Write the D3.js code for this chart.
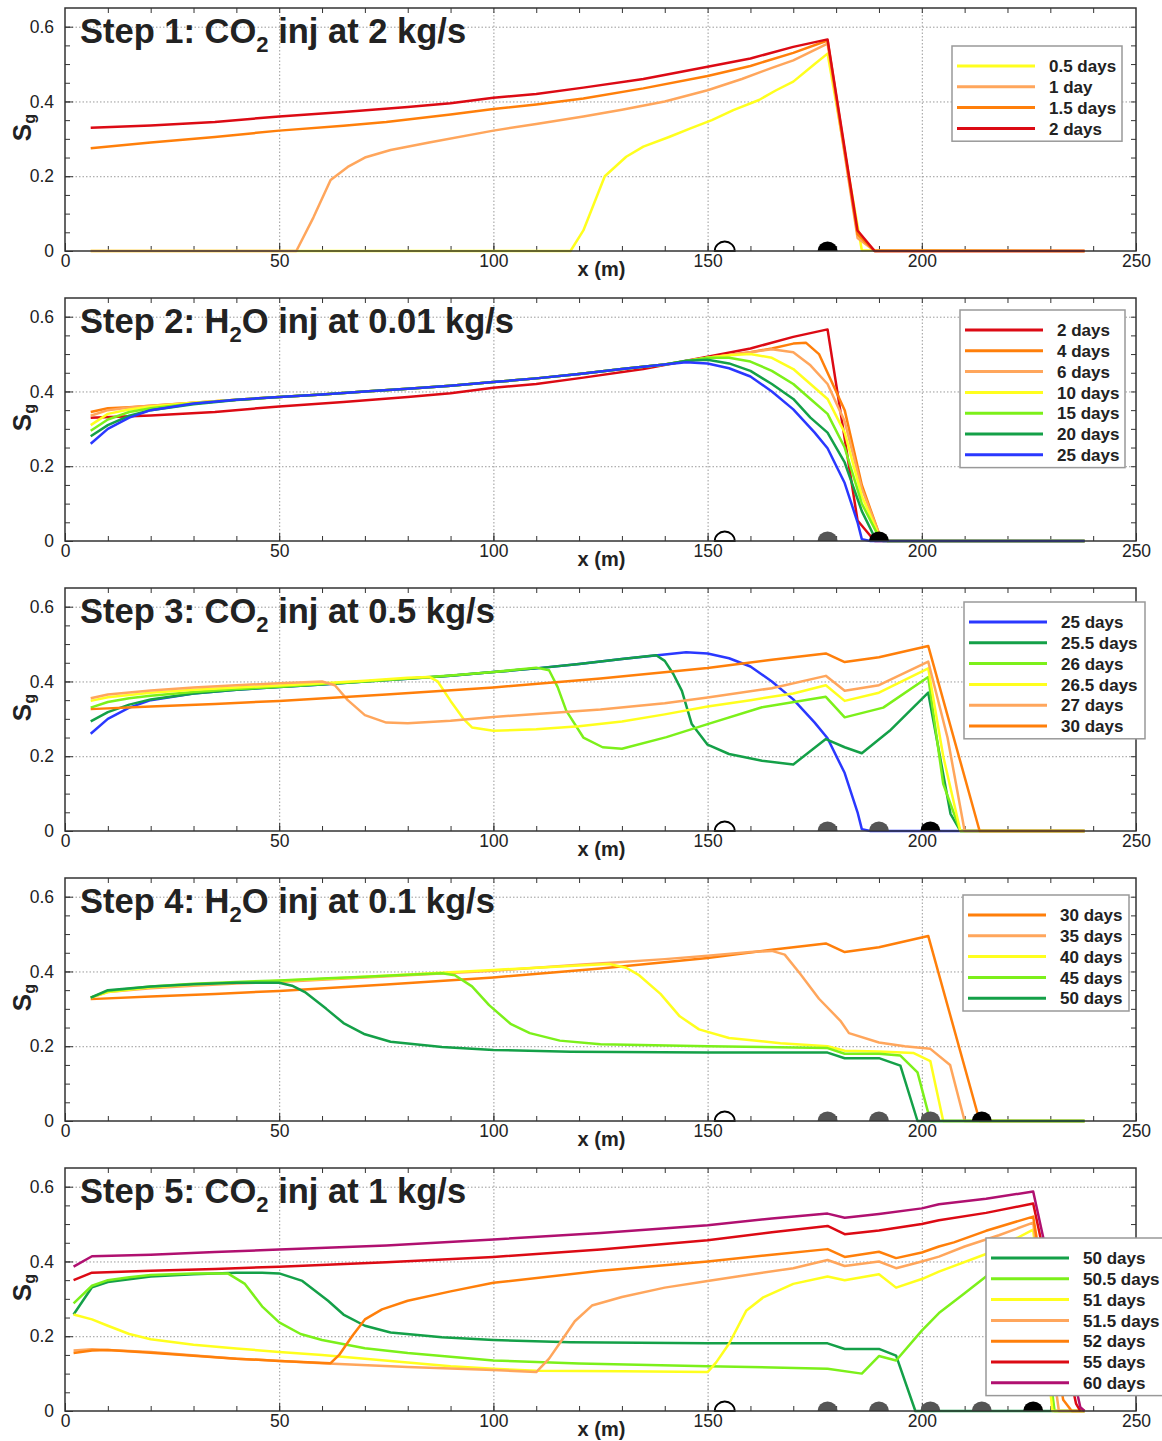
<!DOCTYPE html>
<html>
<head>
<meta charset="utf-8">
<script src="https://cdn.jsdelivr.net/npm/d3@7"></script>
<style>
  body { margin: 0; background: #fff; }
  text { font-family: "Liberation Sans", Arial, sans-serif; fill: #222; }
  .grid line { stroke: #9a9a9a; stroke-dasharray: 1.5,2; }
  .ticks line { stroke: #333; }
  .ticks text { font-size: 17.5px; fill: #222; }
</style>
</head>
<body>
<div class="chart"></div>
<script>
// ---------------- data ----------------
var xTicks = [0, 50, 100, 150, 200, 250];
var yTicks = [0, 0.2, 0.4, 0.6];
var wellX = [154, 178, 190, 202, 214, 226];

// Step 1: CO2 injection at 2 kg/s
var step1Labels = ["0.5 days", "1 day", "1.5 days", "2 days"];
var s1_05d = [[6,0],[118,0],[121,0.055],[126,0.2],[131,0.252],[135,0.279],[141,0.305],[146,0.328],[151,0.35],[156,0.377],[162,0.404],[166,0.43],[170,0.453],[175,0.5],[178,0.528],[186,0.002],[238,0]];
var s1_1d = [[6,0],[54,0],[58,0.09],[62,0.19],[66,0.225],[70,0.25],[76,0.27],[85,0.29],[100,0.322],[110,0.34],[121,0.36],[130,0.378],[140,0.4],[150,0.43],[158,0.46],[165,0.49],[170,0.51],[178,0.555],[185,0.035],[189,0],[238,0]];
var s1_15d = [[6,0.275],[20,0.29],[35,0.305],[50,0.322],[65,0.335],[75,0.345],[90,0.365],[100,0.38],[110,0.392],[121,0.408],[135,0.435],[150,0.468],[160,0.495],[170,0.53],[178,0.563],[185,0.045],[189,0],[238,0]];
var s1_2d = [[6,0.33],[20,0.336],[35,0.345],[50,0.36],[65,0.372],[80,0.385],[90,0.395],[100,0.41],[110,0.42],[121,0.437],[135,0.46],[150,0.493],[160,0.515],[170,0.546],[178,0.566],[185,0.055],[189,0],[238,0]];

// Step 2: H2O injection at 0.01 kg/s
var step2Labels = ["2 days", "4 days", "6 days", "10 days", "15 days", "20 days", "25 days"];
var s2_4d = [[6,0.345],[10,0.355],[15,0.358],[20,0.362],[30,0.37],[40,0.378],[50,0.385],[60,0.392],[70,0.4],[80,0.407],[90,0.415],[100,0.425],[110,0.435],[120,0.447],[130,0.46],[140,0.472],[150,0.49],[160,0.505],[165,0.515],[170,0.528],[173,0.53],[176,0.5],[178,0.45],[182,0.35],[186,0.15],[190,0.02],[192,0],[238,0]];
var s2_6d = [[6,0.335],[10,0.35],[15,0.357],[20,0.362],[30,0.37],[40,0.378],[50,0.385],[60,0.392],[70,0.4],[80,0.407],[90,0.415],[100,0.425],[110,0.435],[120,0.447],[130,0.46],[140,0.472],[150,0.49],[160,0.505],[165,0.513],[170,0.505],[174,0.47],[178,0.42],[182,0.32],[186,0.14],[190,0.02],[192,0],[238,0]];
var s2_10d = [[6,0.31],[10,0.34],[15,0.352],[20,0.36],[30,0.37],[40,0.378],[50,0.385],[60,0.392],[70,0.4],[80,0.407],[90,0.415],[100,0.425],[110,0.435],[120,0.447],[130,0.46],[140,0.472],[150,0.49],[155,0.497],[160,0.5],[165,0.49],[170,0.46],[174,0.42],[178,0.38],[182,0.29],[186,0.12],[190,0.015],[192,0],[238,0]];
var s2_15d = [[6,0.295],[10,0.325],[15,0.345],[20,0.355],[30,0.368],[40,0.378],[50,0.385],[60,0.392],[70,0.4],[80,0.407],[90,0.415],[100,0.425],[110,0.435],[120,0.447],[130,0.46],[140,0.472],[150,0.49],[155,0.49],[160,0.48],[165,0.455],[170,0.42],[174,0.38],[178,0.34],[182,0.25],[186,0.1],[190,0.01],[192,0],[238,0]];
var s2_20d = [[6,0.28],[10,0.31],[15,0.335],[20,0.35],[30,0.366],[40,0.377],[50,0.385],[60,0.392],[70,0.4],[80,0.407],[90,0.415],[100,0.425],[110,0.435],[120,0.447],[130,0.46],[140,0.472],[145,0.482],[150,0.485],[155,0.475],[160,0.455],[165,0.42],[170,0.38],[174,0.33],[178,0.29],[182,0.21],[186,0.08],[189,0.01],[191,0],[238,0]];
var s2_25d = [[6,0.26],[10,0.3],[15,0.33],[20,0.35],[30,0.368],[40,0.378],[50,0.385],[60,0.392],[70,0.4],[80,0.407],[90,0.415],[100,0.425],[110,0.435],[120,0.447],[130,0.46],[140,0.472],[145,0.478],[150,0.475],[155,0.462],[160,0.44],[165,0.4],[170,0.352],[175,0.29],[178,0.248],[182,0.155],[185,0.05],[186,0.005],[188,0],[238,0]];

// Step 3: CO2 injection at 0.5 kg/s
var step3Labels = ["25 days", "25.5 days", "26 days", "26.5 days", "27 days", "30 days"];
var s3_255d = [[6,0.293],[10,0.318],[15,0.338],[20,0.352],[30,0.368],[40,0.378],[50,0.385],[60,0.392],[70,0.4],[80,0.407],[90,0.415],[100,0.425],[110,0.435],[120,0.447],[130,0.46],[138,0.47],[140,0.455],[142,0.42],[144,0.375],[146.3,0.286],[150,0.231],[155,0.206],[162.7,0.188],[170,0.178],[177.6,0.246],[182,0.224],[186,0.208],[192.5,0.268],[201.5,0.37],[206.7,0.046],[209,0],[238,0]];
var s3_26d = [[6,0.33],[10,0.345],[15,0.355],[20,0.362],[30,0.372],[40,0.38],[50,0.386],[60,0.393],[70,0.4],[80,0.408],[90,0.416],[100,0.425],[110,0.437],[113,0.43],[115,0.385],[117,0.322],[118,0.304],[121,0.25],[125.5,0.224],[130,0.22],[140.4,0.251],[150,0.286],[162.7,0.331],[177.6,0.359],[182,0.304],[191,0.33],[201.5,0.412],[205,0.126],[209,0],[238,0]];
var s3_265d = [[6,0.348],[10,0.358],[20,0.37],[30,0.378],[40,0.384],[50,0.389],[60,0.395],[70,0.402],[80,0.41],[85,0.412],[87,0.4],[90,0.348],[93,0.3],[95,0.277],[100,0.268],[110,0.272],[120,0.28],[130,0.293],[140,0.312],[150,0.333],[160,0.35],[170,0.368],[177.6,0.39],[182,0.348],[190,0.37],[201.5,0.435],[205,0.2],[209,0],[238,0]];
var s3_27d = [[6,0.355],[10,0.365],[20,0.376],[30,0.384],[40,0.39],[50,0.395],[60,0.4],[63,0.39],[66,0.35],[70,0.31],[75,0.29],[80,0.288],[90,0.295],[100,0.305],[110,0.313],[125,0.325],[140,0.342],[150,0.357],[165,0.382],[177.6,0.415],[182,0.375],[190,0.39],[201.5,0.453],[206,0.25],[210,0],[238,0]];
var s3_30d = [[6,0.326],[20,0.333],[35,0.34],[50,0.348],[75,0.365],[100,0.384],[125,0.408],[150,0.436],[165,0.458],[177.6,0.475],[182,0.452],[190,0.465],[201.5,0.495],[213.5,0],[238,0]];

// Step 4: H2O injection at 0.1 kg/s
var step4Labels = ["30 days", "35 days", "40 days", "45 days", "50 days"];
var s4_35d = [[6,0.33],[10,0.345],[20,0.355],[30,0.362],[40,0.368],[50,0.372],[60,0.378],[70,0.384],[80,0.39],[90,0.396],[100,0.402],[110,0.41],[120,0.418],[130,0.425],[140,0.433],[150,0.442],[160,0.452],[165,0.455],[168,0.445],[171.6,0.394],[176,0.327],[181,0.268],[183,0.235],[190,0.21],[196,0.2],[202,0.193],[206.6,0.15],[210,0],[238,0]];
var s4_40d = [[6,0.33],[10,0.345],[20,0.358],[30,0.365],[40,0.37],[50,0.375],[60,0.38],[70,0.386],[80,0.392],[90,0.398],[100,0.404],[110,0.41],[120,0.416],[127,0.42],[131,0.41],[134,0.39],[139,0.34],[143.5,0.28],[148,0.245],[155,0.222],[167,0.208],[178,0.2],[182,0.188],[190,0.186],[198,0.182],[202,0.16],[205,0],[238,0]];
var s4_45d = [[6,0.33],[10,0.348],[20,0.36],[30,0.367],[40,0.372],[50,0.376],[60,0.381],[70,0.386],[80,0.391],[88,0.395],[91,0.39],[95,0.36],[99,0.31],[104,0.26],[108.5,0.235],[115.5,0.215],[125,0.205],[150,0.2],[178,0.195],[182,0.18],[190,0.18],[195,0.175],[199,0.13],[202,0],[238,0]];
var s4_50d = [[6,0.33],[10,0.35],[20,0.36],[30,0.366],[40,0.37],[50,0.37],[53,0.362],[56,0.345],[61,0.3],[65,0.262],[70,0.232],[76,0.212],[88,0.198],[100,0.19],[118,0.185],[150,0.183],[178,0.183],[182,0.168],[190,0.168],[195,0.148],[199,0],[238,0]];

// Step 5: CO2 injection at 1 kg/s
var step5Labels = ["50 days", "50.5 days", "51 days", "51.5 days", "52 days", "55 days", "60 days"];
var s5_50d = [[2,0.258],[6.3,0.331],[10,0.345],[20,0.36],[30,0.366],[40,0.37],[46,0.37],[50,0.368],[55.4,0.348],[61.4,0.295],[65,0.258],[70,0.228],[76,0.21],[88,0.197],[100,0.19],[118,0.184],[150,0.181],[178,0.181],[182,0.166],[190,0.166],[194,0.148],[198.5,0],[238,0]];
var s5_505d = [[2,0.288],[6.3,0.335],[10,0.35],[15,0.358],[20,0.364],[30,0.368],[38,0.368],[42,0.34],[46,0.28],[50,0.237],[55,0.206],[60,0.19],[70,0.168],[80,0.155],[90,0.145],[100,0.135],[120,0.127],[150,0.12],[178,0.113],[186,0.1],[190,0.147],[194,0.135],[200,0.215],[204,0.262],[210,0.315],[215,0.36],[220,0.4],[226,0.44],[231,0],[238,0]];
var s5_51d = [[2,0.258],[6.3,0.245],[10,0.228],[15,0.206],[20,0.192],[30,0.177],[40,0.167],[50,0.158],[60,0.15],[70,0.14],[80,0.13],[90,0.12],[100,0.113],[110,0.108],[130,0.106],[150,0.104],[152,0.13],[155,0.18],[159,0.268],[163,0.304],[170,0.34],[178,0.36],[182,0.35],[190,0.366],[194,0.33],[200,0.353],[204,0.373],[215,0.42],[226,0.485],[230.5,0],[238,0]];
var s5_515d = [[2,0.162],[6.3,0.165],[20,0.158],[40,0.14],[60,0.128],[80,0.118],[100,0.11],[110,0.104],[113,0.14],[116,0.19],[119,0.24],[123,0.282],[130,0.305],[140,0.33],[150,0.348],[160,0.365],[170,0.382],[178,0.404],[182,0.388],[190,0.4],[194,0.382],[200,0.4],[204,0.413],[210,0.44],[218,0.47],[226,0.504],[232,0],[238,0]];
var s5_52d = [[2,0.155],[6.3,0.162],[10,0.163],[20,0.156],[30,0.148],[40,0.14],[50,0.134],[62,0.128],[64,0.15],[67,0.2],[70,0.245],[74,0.272],[80,0.295],[90,0.32],[100,0.343],[125,0.375],[150,0.4],[165,0.418],[178,0.433],[182,0.412],[190,0.426],[194,0.409],[200,0.424],[204,0.44],[207.5,0.451],[215,0.482],[226,0.52],[233,0.03],[235,0],[238,0]];
var s5_55d = [[2,0.35],[6.3,0.37],[20,0.375],[35,0.38],[50,0.386],[75,0.398],[100,0.412],[125,0.432],[150,0.457],[165,0.478],[178,0.495],[182,0.473],[190,0.483],[200,0.5],[204,0.51],[215,0.53],[226,0.555],[236,0.02],[237,0]];
var s5_60d = [[2,0.386],[6.3,0.414],[20,0.418],[35,0.425],[50,0.432],[75,0.443],[100,0.459],[125,0.476],[150,0.497],[165,0.515],[178,0.528],[182,0.517],[190,0.527],[200,0.542],[204,0.553],[215,0.568],[226,0.587],[237,0.01],[238,0]];

// ---------------- styles ----------------
var C = {
  yellow: "#ffff1e", ltorange: "#ffa65c", orange: "#ff7f0a", red: "#dc0a14",
  lime: "#7cf01a", green: "#14a048", blue: "#2a38ff", purple: "#b01070"
};

var panels = [
  { title: ["Step 1: CO", "2", " inj at 2 kg/s"], labels: step1Labels,
    series: [s1_05d, s1_1d, s1_15d, s1_2d],
    colors: [C.yellow, C.ltorange, C.orange, C.red],
    legend: { x: 952, y: 38, w: 170 } },
  { title: ["Step 2: H", "2", "O inj at 0.01 kg/s"], labels: step2Labels,
    series: [s1_2d, s2_4d, s2_6d, s2_10d, s2_15d, s2_20d, s2_25d],
    colors: [C.red, C.orange, C.ltorange, C.yellow, C.lime, C.green, C.blue],
    legend: { x: 960, y: 12, w: 165 } },
  { title: ["Step 3: CO", "2", " inj at 0.5 kg/s"], labels: step3Labels,
    series: [s2_25d, s3_255d, s3_26d, s3_265d, s3_27d, s3_30d],
    colors: [C.blue, C.green, C.lime, C.yellow, C.ltorange, C.orange],
    legend: { x: 964, y: 14, w: 181 } },
  { title: ["Step 4: H", "2", "O inj at 0.1 kg/s"], labels: step4Labels,
    series: [s3_30d, s4_35d, s4_40d, s4_45d, s4_50d],
    colors: [C.orange, C.ltorange, C.yellow, C.lime, C.green],
    legend: { x: 963, y: 17, w: 166 } },
  { title: ["Step 5: CO", "2", " inj at 1 kg/s"], labels: step5Labels,
    series: [s5_50d, s5_505d, s5_51d, s5_515d, s5_52d, s5_55d, s5_60d],
    colors: [C.green, C.lime, C.yellow, C.ltorange, C.orange, C.red, C.purple],
    legend: { x: 986, y: 70, w: 190 } }
];

// ---------------- layout ----------------
var svgWidth = 1162, svgHeight = 1441;
var plotLeft = 65, plotRight = 1136;
var firstTop = 8, panelStep = 290, panelH = 243;

var svg = d3.select(".chart").append("svg")
  .attr("width", svgWidth).attr("height", svgHeight);
svg.append("rect").attr("width", svgWidth).attr("height", svgHeight).attr("fill", "#fff");

var x = d3.scaleLinear().domain([0, 250]).range([plotLeft, plotRight]);

panels.forEach(function(p, i) {
  var top = firstTop + i * panelStep;
  var bottom = top + panelH;
  var y = d3.scaleLinear().domain([0, 0.65]).range([bottom, top]);
  var g = svg.append("g");

  // gridlines
  g.append("g").attr("class", "grid")
    .attr("transform", `translate(0, ${bottom})`)
    .call(d3.axisBottom(x).tickValues([50, 100, 150, 200]).tickSize(-panelH).tickFormat(""))
    .call(s => s.select(".domain").remove());
  g.append("g").attr("class", "grid")
    .attr("transform", `translate(${plotLeft}, 0)`)
    .call(d3.axisLeft(y).tickValues([0.2, 0.4, 0.6]).tickSize(-(plotRight - plotLeft)).tickFormat(""))
    .call(s => s.select(".domain").remove());

  // minor ticks
  var xMinor = d3.range(10, 250, 10);
  var yMinor = d3.range(0.05, 0.65, 0.05);
  g.append("g").attr("class", "ticks").attr("transform", `translate(0, ${bottom})`)
    .call(d3.axisBottom(x).tickValues(xMinor).tickSize(-5).tickFormat(""));
  g.append("g").attr("class", "ticks").attr("transform", `translate(0, ${top})`)
    .call(d3.axisTop(x).tickValues(xMinor).tickSize(-5).tickFormat(""));
  g.append("g").attr("class", "ticks").attr("transform", `translate(${plotLeft}, 0)`)
    .call(d3.axisLeft(y).tickValues(yMinor).tickSize(-5).tickFormat(""));
  g.append("g").attr("class", "ticks").attr("transform", `translate(${plotRight}, 0)`)
    .call(d3.axisRight(y).tickValues(yMinor).tickSize(-5).tickFormat(""));

  // labelled axes
  g.append("g").attr("class", "ticks").attr("transform", `translate(0, ${bottom})`)
    .call(d3.axisBottom(x).tickValues(xTicks).tickSize(-8).tickPadding(4).tickFormat(d3.format("d")));
  g.append("g").attr("class", "ticks").attr("transform", `translate(${plotLeft}, 0)`)
    .call(d3.axisLeft(y).tickValues(yTicks).tickSize(-8).tickPadding(11)
      .tickFormat(d => d === 0 ? "0" : d3.format(".1f")(d)));
  g.selectAll(".ticks .domain").remove();

  // curves
  var line = d3.line().x(d => x(d[0])).y(d => y(d[1]));
  g.selectAll("path.curve")
    .data(p.series)
    .enter()
    .append("path")
    .attr("class", "curve")
    .attr("d", line)
    .attr("fill", "none")
    .attr("stroke", (d, j) => p.colors[j])
    .attr("stroke-width", 2.5)
    .attr("stroke-linejoin", "round");

  // well markers
  var wells = wellX.slice(0, i + 2);
  g.selectAll("path.well")
    .data(wells)
    .enter()
    .append("path")
    .attr("class", "well")
    .attr("d", d => `M${x(d) - 10},${bottom} A10,9.5 0 0 1 ${x(d) + 10},${bottom} Z`)
    .attr("fill", (d, j) => j === 0 ? "none" : (j === wells.length - 1 ? "#000" : "#555"))
    .attr("stroke", (d, j) => j === 0 ? "#000" : "none")
    .attr("stroke-width", 1.8);

  // frame
  g.append("rect")
    .attr("x", plotLeft).attr("y", top)
    .attr("width", plotRight - plotLeft).attr("height", panelH)
    .attr("fill", "none").attr("stroke", "#333").attr("stroke-width", 1.5);

  // title
  var t = g.append("text").attr("x", 80).attr("y", top + 35)
    .attr("font-size", 34.5).attr("font-weight", "bold");
  t.append("tspan").text(p.title[0]);
  t.append("tspan").attr("font-size", 22).attr("dy", 9).text(p.title[1]);
  t.append("tspan").attr("dy", -9).text(p.title[2]);

  // axis labels
  g.append("text")
    .attr("x", x(125) + 1).attr("y", bottom + 25)
    .attr("text-anchor", "middle").attr("font-size", 20).attr("font-weight", "bold")
    .text("x (m)");
  var yl = g.append("text")
    .attr("transform", `translate(31, ${y(0.33)}) rotate(-90)`)
    .attr("text-anchor", "middle").attr("font-size", 26).attr("font-weight", "bold");
  yl.append("tspan").text("S");
  yl.append("tspan").attr("font-size", 16).attr("dy", 4).text("g");

  // legend
  var L = p.legend;
  var rowH = 20.8;
  var lg = g.append("g").attr("transform", `translate(${L.x}, ${top + L.y})`);
  lg.append("rect")
    .attr("width", L.w).attr("height", p.labels.length * rowH + 12)
    .attr("fill", "#fff").attr("stroke", "#999").attr("stroke-width", 1.5);
  var items = lg.selectAll("g.item")
    .data(p.labels)
    .enter()
    .append("g")
    .attr("transform", (d, j) => `translate(0, ${20 + j * rowH})`);
  items.append("line")
    .attr("x1", 5).attr("x2", 83)
    .attr("stroke", (d, j) => p.colors[j]).attr("stroke-width", 3);
  items.append("text")
    .attr("x", 97).attr("dy", "0.36em")
    .attr("font-size", 17).attr("font-weight", "bold")
    .text(d => d);
});
</script>
</body>
</html>
